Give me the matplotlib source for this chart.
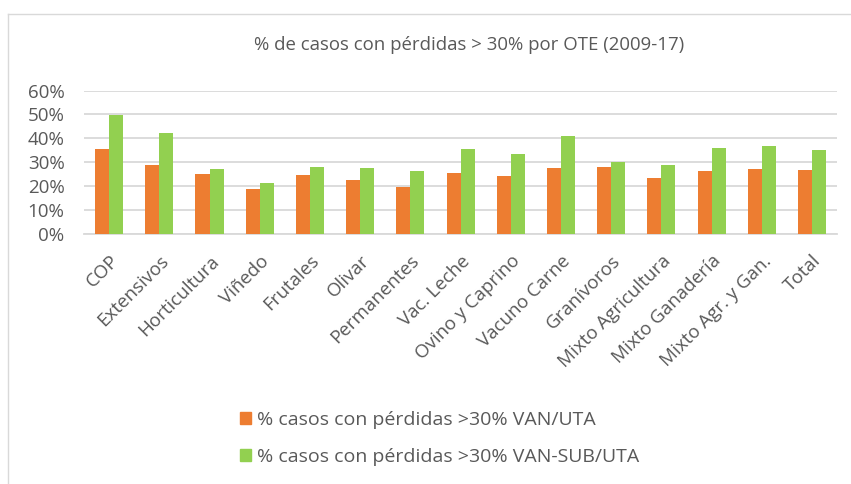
import matplotlib.pyplot as plt
from matplotlib.lines import Line2D
from matplotlib.patches import Patch
from matplotlib.ticker import PercentFormatter
import numpy as np

plt.rcParams['font.family'] = ['Open Sans', 'DejaVu Sans']

categories = ['COP', 'Extensivos', 'Horticultura', 'Viñedo', 'Frutales', 'Olivar',
              'Permanentes', 'Vac. Leche', 'Ovino y Caprino', 'Vacuno Carne',
              'Granívoros', 'Mixto Agricultura', 'Mixto Ganadería',
              'Mixto Agr. y Gan.', 'Total']
van_uta = [35.4, 28.7, 24.9, 18.6, 24.6, 22.4, 19.5, 25.6, 24.2, 27.6,
           27.9, 23.4, 26.4, 27.3, 26.7]
van_sub_uta = [49.8, 42.1, 27.0, 21.1, 28.1, 27.4, 26.3, 35.7, 33.2, 41.1,
               30.1, 28.7, 36.1, 36.8, 35.1]
yticks = [0, 10, 20, 30, 40, 50, 60]

label_a = '% casos con pérdidas >30% VAN/UTA'
label_b = '% casos con pérdidas >30% VAN-SUB/UTA'
title = '% de casos con pérdidas > 30% por OTE (2009-17)'

orange = '#ED7D31'
green = '#92D050'
txt = '#595959'
grid = '#d9d9d9'

fig = plt.figure(figsize=(8.51, 4.84), dpi=100)
fig.patch.set_facecolor('white')
ax = fig.add_axes([0.0987, 0.517, 0.885, 0.296])

x = np.arange(len(categories))
w = 0.28
ax.bar(x - w / 2, van_uta, w, color=orange, zorder=3)
ax.bar(x + w / 2, van_sub_uta, w, color=green, zorder=3)

ax.set_xlim(-0.5, len(categories) - 0.5)
ax.set_ylim(0, 60)
ax.set_yticks(yticks)
ax.yaxis.set_major_formatter(PercentFormatter(decimals=0))
ax.yaxis.grid(True, color=grid, lw=1.3, zorder=0)
ax.set_xticks(x)
ax.set_xticklabels(categories, rotation=45, ha='right', rotation_mode='anchor')
ax.tick_params(length=0, colors=txt, labelsize=13.5)
ax.tick_params(axis='y', pad=14)
ax.tick_params(axis='x', pad=13)
for s in ['top', 'right', 'left']:
    ax.spines[s].set_visible(False)
ax.spines['bottom'].set_color(grid)
ax.spines['bottom'].set_linewidth(1.3)

fig.text(0.551, 0.907, title, ha='center', va='center', fontsize=13.4, color=txt)

# chart frame (only top and left edges are in view)
fig.add_artist(Line2D([8 / 851, 1], [1 - 14 / 484] * 2, color='#d9d9d9', lw=1))
fig.add_artist(Line2D([8 / 851] * 2, [0, 1 - 14 / 484], color='#d9d9d9', lw=1))

handles = [Patch(color=orange, label=label_a), Patch(color=green, label=label_b)]
fig.legend(handles=handles, loc='upper left', bbox_to_anchor=(230 / 851, 1 - 401 / 484),
           frameon=False, fontsize=14, labelcolor=txt, handlelength=0.6,
           handleheight=0.6, handletextpad=0.3, labelspacing=1.0, borderpad=0)

fig.savefig('out.png', dpi=100)
